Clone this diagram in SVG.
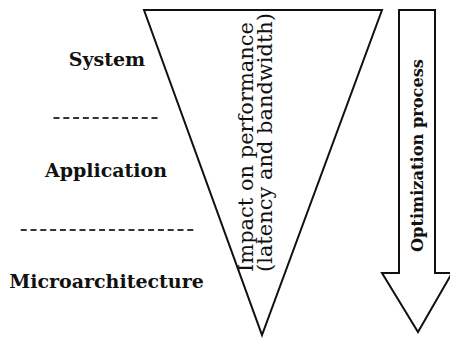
<svg xmlns="http://www.w3.org/2000/svg" width="450" height="338" viewBox="0 0 450 338">
<style>
.lbl{font-family:"DejaVu Serif","Liberation Serif",serif;font-weight:bold;font-size:19px;fill:#111;text-anchor:middle}
.imp{font-family:"DejaVu Serif","Liberation Serif",serif;font-size:20px;fill:#111}
.opt{font-family:"DejaVu Serif","Liberation Serif",serif;font-weight:bold;font-size:17px;fill:#111}
.sep{stroke:#333;stroke-width:2;stroke-dasharray:6 3.8;fill:none}
.shape{fill:#fff;stroke:#111;stroke-width:2;stroke-linejoin:miter}
</style>
<rect width="450" height="338" fill="#fff"/>
<g id="levels">
<g id="system"><text class="lbl" x="107" y="66">System</text></g>
<g id="application"><text class="lbl" x="106" y="177">Application</text></g>
<g id="microarchitecture"><text class="lbl" x="106.5" y="288">Microarchitecture</text></g>
</g>
<g id="separators">
<line class="sep" x1="53.5" y1="118" x2="158" y2="118"/>
<line class="sep" x1="20.7" y1="230" x2="194" y2="230"/>
</g>
<g id="impact">
<polygon class="shape" points="144,10 382,10 262,335"/>
<text class="imp" transform="translate(253,272) rotate(-90)" textLength="250" lengthAdjust="spacingAndGlyphs">Impact on performance</text>
<text class="imp" transform="translate(272,272) rotate(-90)" textLength="259" lengthAdjust="spacingAndGlyphs">(latency and bandwidth)</text>
</g>
<g id="optimization">
<polygon class="shape" points="399,10 435,10 435,273 452,273 418,332 382,273 399,273"/>
<text class="opt" transform="translate(423,252) rotate(-90)" textLength="193" lengthAdjust="spacingAndGlyphs">Optimization process</text>
</g>
</svg>
